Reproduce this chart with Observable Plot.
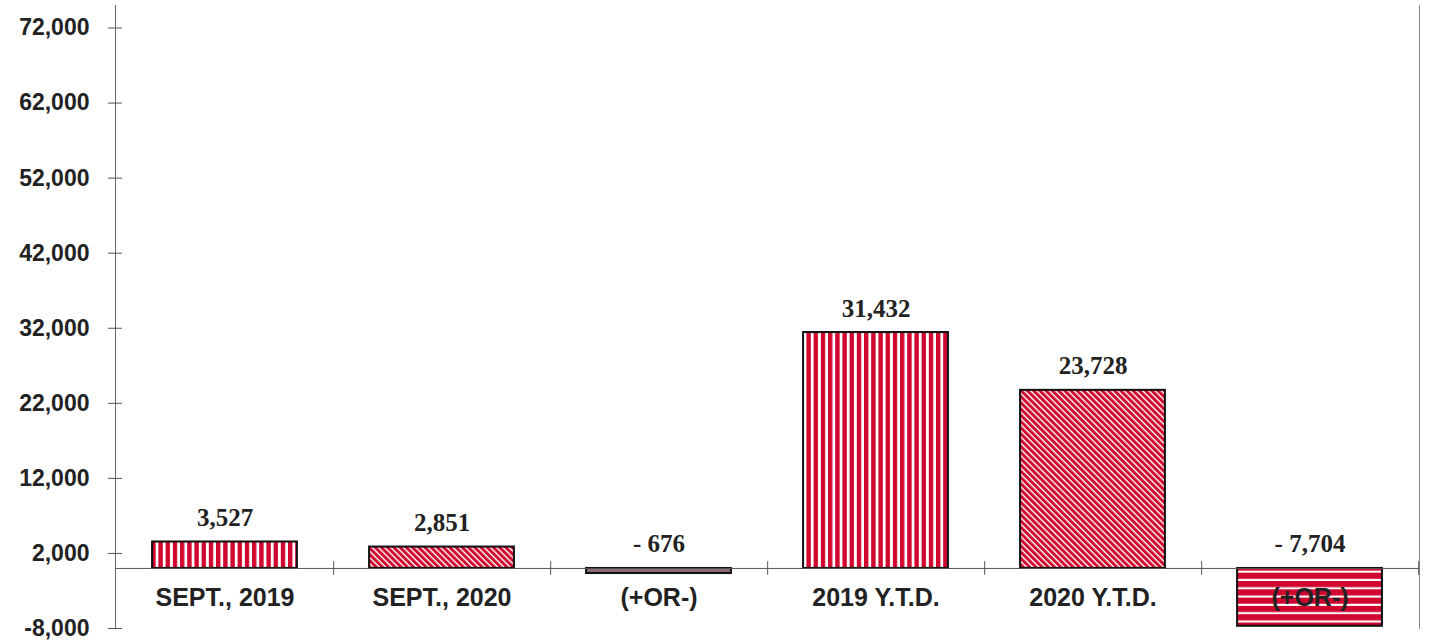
<!DOCTYPE html>
<html><head><meta charset="utf-8">
<script src="https://cdn.jsdelivr.net/npm/d3@7"></script>
<script src="https://cdn.jsdelivr.net/npm/@observablehq/plot@0.6"></script>
<style>body{margin:0;background:#fff}</style>
</head><body><div id="chart"></div>
<script>
// ---- data ----
const keys = ["sep2019", "sep2020", "diffMonth", "ytd2019", "ytd2020", "diffYtd"];
const categoryLabels = ["SEPT., 2019", "SEPT., 2020", "(+OR-)", "2019 Y.T.D.", "2020 Y.T.D.", "(+OR-)"];
const values = [3527, 2851, -676, 31432, 23728, -7704];
const valueLabels = ["3,527", "2,851", "- 676", "31,432", "23,728", "- 7,704"];
const yTicks = [-8000, 2000, 12000, 22000, 32000, 42000, 52000, 62000, 72000];
const yTickLabels = ["-8,000", "2,000", "12,000", "22,000", "32,000", "42,000", "52,000", "62,000", "72,000"];

// ---- styles ----
const fillFor = {
  sep2019: "url(#vstripe)", sep2020: "url(#dstripe)", diffMonth: "#8e6a78",
  ytd2019: "url(#vstripe)", ytd2020: "url(#dstripe)", diffYtd: "url(#hstripe)"
};
const RED = "#d1062e";
const W = 1432, H = 643, mL = 115, mR = 13, mT = 5, mB = 15;
const step = (W - mL - mR) / keys.length;
const inset = step * 0.166;

const data = keys.map((k, i) => ({key: k, value: values[i], label: valueLabels[i], cat: categoryLabels[i]}));

const svg = Plot.plot({
  width: W, height: H,
  marginLeft: mL, marginRight: mR, marginTop: mT, marginBottom: mB,
  x: {domain: keys, padding: 0, axis: null},
  y: {domain: [-8000, 75000], axis: null},
  color: {type: "identity"},
  style: {background: "#fff", color: "#222", fontFamily: "'Liberation Sans', Arial, sans-serif"},
  marks: [
    Plot.frame({anchor: "left", stroke: "#666"}),
    Plot.frame({anchor: "right", stroke: "#888"}),
    Plot.axisY({ticks: yTicks, tickSize: 14, dx: 7, tickPadding: 19, label: null,
      tickFormat: (d) => yTickLabels[yTicks.indexOf(d)],
      fontSize: 23, fontWeight: "bold", color: "#222", stroke: "#555"}),
    Plot.barY(data, {x: "key", y: "value", fill: (d) => fillFor[d.key], stroke: "#111", strokeWidth: 2,
      insetLeft: inset, insetRight: inset}),
    Plot.ruleY([0], {stroke: "#555"}),
    Plot.ruleX(keys, {x: (d) => d, y1: -900, y2: 900, dx: step / 2, stroke: "#555"}),
    Plot.text(data, {x: "key", y: (d) => Math.max(0, d.value), text: "label", lineAnchor: "bottom", dy: -16,
      fontFamily: "'Liberation Serif', 'Times New Roman', serif", fontWeight: "bold", fontSize: 25, fill: "#222"}),
    Plot.text(data, {x: "key", y: (d) => 0, text: "cat", lineAnchor: "bottom", dy: 38,
      fontWeight: "bold", fontSize: 25, fill: "#222"})
  ]
});

const defs = d3.select(svg).insert("defs", ":first-child");
function pattern(id, w, h, transform) {
  const p = defs.append("pattern").attr("id", id).attr("patternUnits", "userSpaceOnUse")
    .attr("width", w).attr("height", h);
  if (transform) p.attr("patternTransform", transform);
  p.append("rect").attr("width", w).attr("height", h).attr("fill", "#fff");
  return p;
}
pattern("vstripe", 7.2, 10).append("rect").attr("width", 4.4).attr("height", 10).attr("fill", RED);
pattern("dstripe", 4.4, 10, "rotate(-45)").append("rect").attr("width", 3).attr("height", 10).attr("fill", RED);
pattern("hstripe", 10, 8.3).append("rect").attr("width", 10).attr("height", 6.2).attr("fill", RED);

document.getElementById("chart").append(svg);
</script>
</body></html>
